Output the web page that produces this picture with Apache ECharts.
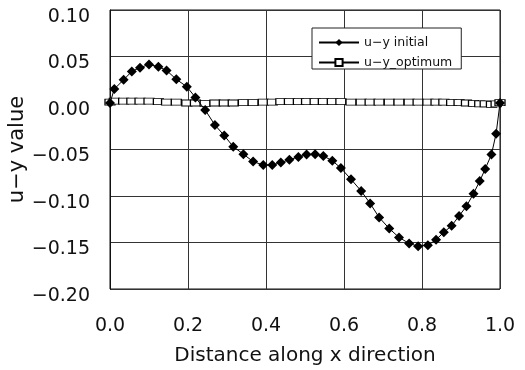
<!DOCTYPE html>
<html>
<head>
<meta charset="utf-8">
<script src="https://cdn.jsdelivr.net/npm/echarts@6/dist/echarts.min.js"></script>
<style>
  html, body { margin: 0; padding: 0; background: #fff; }
  #chart { width: 525px; height: 370px; }
</style>
</head>
<body>
<div id="chart"></div>
<script>
// distance along x
const xPos = [0.0, 0.011, 0.035, 0.056, 0.077, 0.100, 0.124, 0.145, 0.170, 0.197,
  0.219, 0.244, 0.269, 0.293, 0.316, 0.342, 0.367, 0.393, 0.416, 0.438,
  0.460, 0.483, 0.504, 0.526, 0.547, 0.570, 0.592, 0.618, 0.644, 0.667,
  0.690, 0.716, 0.741, 0.767, 0.790, 0.815, 0.836, 0.856, 0.876, 0.895,
  0.914, 0.932, 0.948, 0.962, 0.978, 0.990, 1.0];

const initialVals = [0.0, 0.015, 0.025, 0.034, 0.038, 0.0415, 0.039, 0.035, 0.0255, 0.0175,
  0.006, -0.0075, -0.0237, -0.035, -0.047, -0.055, -0.063, -0.0667, -0.0667, -0.064,
  -0.061, -0.058, -0.0555, -0.055, -0.057, -0.062, -0.070, -0.082, -0.0946, -0.108,
  -0.123, -0.135, -0.1445, -0.151, -0.154, -0.153, -0.147, -0.139, -0.132, -0.1215,
  -0.111, -0.0975, -0.084, -0.071, -0.0555, -0.033, 0.0];

const optimumVals = [0.001, 0.002, 0.002, 0.002, 0.002, 0.002, 0.0015, 0.001, 0.001, 0.0,
  0.0, -0.0005, 0.0, 0.0, 0.0, 0.0005, 0.0005, 0.001, 0.001, 0.0015,
  0.0015, 0.0015, 0.0015, 0.0015, 0.0015, 0.0015, 0.0015, 0.001, 0.001, 0.001,
  0.001, 0.001, 0.001, 0.001, 0.001, 0.001, 0.001, 0.001, 0.0005, 0.0005,
  0.0, -0.0005, -0.001, -0.001, -0.0015, -0.001, 0.0005];

const seriesNames = ['u\u2212y initial', 'u\u2212y_optimum'];

const font = 'DejaVu Sans';
const minus = (s) => s.replace('-', '\u2212');

const chart = echarts.init(document.getElementById('chart'));

const option = {
  animation: false,
  backgroundColor: '#fff',
  textStyle: { fontFamily: font, color: '#111' },
  grid: {
    left: 110, right: 25, top: 10, bottom: 81,
    outerBoundsMode: 'none',
    show: true, borderColor: '#111', borderWidth: 1
  },
  legend: {
    orient: 'vertical',
    left: 312, top: 28,
    padding: [8, 9, 0, 6],
    itemGap: 7,
    itemWidth: 40, itemHeight: 9,
    backgroundColor: '#fff',
    borderColor: '#222', borderWidth: 1,
    textStyle: { fontFamily: font, fontSize: 12.5, color: '#111' },
    data: seriesNames
  },
  xAxis: {
    type: 'value',
    min: 0, max: 1, interval: 0.2,
    name: 'Distance along x direction',
    nameLocation: 'middle',
    nameGap: 57,
    nameTextStyle: { fontFamily: font, fontSize: 20, color: '#111' },
    axisLine: { show: true, lineStyle: { color: '#111' } },
    axisTick: { show: false },
    axisLabel: {
      margin: 28, fontSize: 19, color: '#111', fontFamily: font,
      formatter: (v) => minus(v.toFixed(1))
    },
    splitLine: { show: true, lineStyle: { color: '#333', width: 1 } }
  },
  yAxis: {
    type: 'value',
    min: -0.2, max: 0.1, interval: 0.05,
    name: 'u\u2212y value',
    nameLocation: 'middle',
    nameGap: 82,
    nameMoveOverlap: false,
    nameTextStyle: { fontFamily: font, fontSize: 21, color: '#111' },
    axisLine: { show: true, lineStyle: { color: '#111' } },
    axisTick: { show: false },
    axisLabel: {
      margin: 20, fontSize: 19, color: '#111', fontFamily: font,
      verticalAlign: 'top', lineHeight: 14,
      formatter: (v) => minus(v.toFixed(2))
    },
    splitLine: { show: true, lineStyle: { color: '#333', width: 1 } }
  },
  series: [
    {
      name: seriesNames[0],
      type: 'line',
      z: 3,
      data: xPos.map((x, i) => [x, initialVals[i]]),
      symbol: 'diamond',
      symbolSize: 10,
      showAllSymbol: true,
      lineStyle: { color: '#000', width: 1 },
      itemStyle: { color: '#000' }
    },
    {
      name: seriesNames[1],
      type: 'line',
      z: 2,
      data: xPos.map((x, i) => [x, optimumVals[i]]),
      symbol: 'rect',
      symbolSize: [10, 6],
      showAllSymbol: true,
      lineStyle: { color: '#000', width: 1 },
      itemStyle: { color: '#fff', borderColor: '#000', borderWidth: 1 }
    }
  ]
};

chart.setOption(option);
</script>
</body>
</html>
